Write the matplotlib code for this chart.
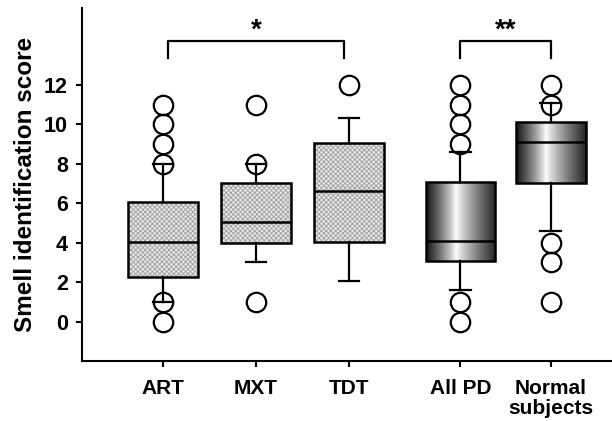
import numpy as np
import matplotlib
matplotlib.use("Agg")
import matplotlib.pyplot as plt
from matplotlib.patches import Rectangle

plt.rcParams["font.family"] = ["Liberation Sans", "DejaVu Sans"]
plt.rcParams["font.weight"] = "bold"
plt.rcParams["hatch.linewidth"] = 0.6

# data
groups = ["ART", "MXT", "TDT", "All PD", "Normal\nsubjects"]
positions = [1, 2, 3, 4.2, 5.17]
q1 = [2.25, 4.0, 4.05, 3.05, 7.05]
median = [4.05, 5.05, 6.6, 4.1, 9.1]
q3 = [6.05, 7.05, 9.05, 7.1, 10.1]
whis_lo = [1.0, 3.0, 2.05, 1.6, 4.6]
whis_hi = [8.0, 8.0, 10.3, 8.6, 11.1]
outliers = [
    [0, 1, 8, 9, 10, 11],
    [1, 8, 11],
    [12],
    [0, 1, 9, 10, 11, 12],
    [1, 3, 4, 11, 12],
]
yticks = [0, 2, 4, 6, 8, 10, 12]
sig_pairs = [(0, 2, "*"), (3, 4, "**")]

BOX_W = 0.75

fig = plt.figure(figsize=(6.12, 4.21), dpi=100)
ax = fig.add_axes([82 / 612, 60 / 421, 530 / 612, 353 / 421])

stats = []
for i in range(len(groups)):
    stats.append(dict(med=median[i], q1=q1[i], q3=q3[i],
                      whislo=whis_lo[i], whishi=whis_hi[i],
                      fliers=outliers[i]))

bp = ax.bxp(stats, positions=positions, widths=BOX_W, patch_artist=True,
            capwidths=0.22, manage_ticks=False,
            boxprops=dict(linewidth=1.8, edgecolor="black", facecolor="none"),
            medianprops=dict(color="black", linewidth=1.8),
            whiskerprops=dict(color="black", linewidth=1.6),
            capprops=dict(color="black", linewidth=1.6),
            flierprops=dict(marker="o", markersize=14, markerfacecolor="none",
                            markeredgecolor="black", markeredgewidth=1.6))

# first three groups: light grey fine crosshatch underneath the outline
for i in range(3):
    ax.add_patch(Rectangle((positions[i] - BOX_W / 2, q1[i]), BOX_W, q3[i] - q1[i],
                           facecolor="#e6e6e6", edgecolor="#a0a0a0", hatch="xxxxxxx",
                           linewidth=0, zorder=1.9))

# last two: cylinder-like grey shading
t = np.linspace(0, 1, 200)
peak = 0.43
shade = np.where(t < peak,
                 1 - 0.92 * ((peak - t) / peak) ** 0.85,
                 1 - 0.85 * ((t - peak) / (1 - peak)) ** 0.85)
for i in (3, 4):
    patch = bp["boxes"][i]
    x0 = positions[i] - BOX_W / 2
    x1 = positions[i] + BOX_W / 2
    im = ax.imshow(shade[np.newaxis, :], cmap="gray", vmin=0, vmax=1,
                   extent=[x0, x1, q1[i], q3[i]], aspect="auto", zorder=1.9)
    im.set_clip_path(patch)

# significance brackets
for a, b, mark in sig_pairs:
    xa = positions[a] + (0.05 if b - a > 1 else 0)
    xb = positions[b] - (0.05 if b - a > 1 else 0)
    ax.plot([xa, xa, xb, xb], [13.35, 14.25, 14.25, 13.35], color="black", lw=1.6)
    ax.text((xa + xb) / 2, 14.1, mark, ha="center", va="bottom",
            fontsize=20, fontweight="bold")

ax.set_xlim(0.13, 5.83)
ax.set_ylim(-2, 15.9)
ax.set_xticks(positions)
ax.set_xticklabels(groups, fontsize=15, fontweight="bold", linespacing=1.05)
ax.set_yticks(yticks)
ax.set_yticklabels([str(v) for v in yticks], fontsize=15.5, fontweight="bold")
ax.set_ylabel("Smell identification score", fontsize=17.5, fontweight="bold", labelpad=5)

ax.spines["top"].set_visible(False)
ax.spines["right"].set_visible(False)
ax.spines["left"].set_linewidth(1.5)
ax.spines["bottom"].set_linewidth(1.5)
ax.tick_params(axis="y", length=4, width=1.5, pad=6)
ax.tick_params(axis="x", length=4, width=1.5, pad=9)

fig.savefig("out.png", dpi=100)
plt.close()
